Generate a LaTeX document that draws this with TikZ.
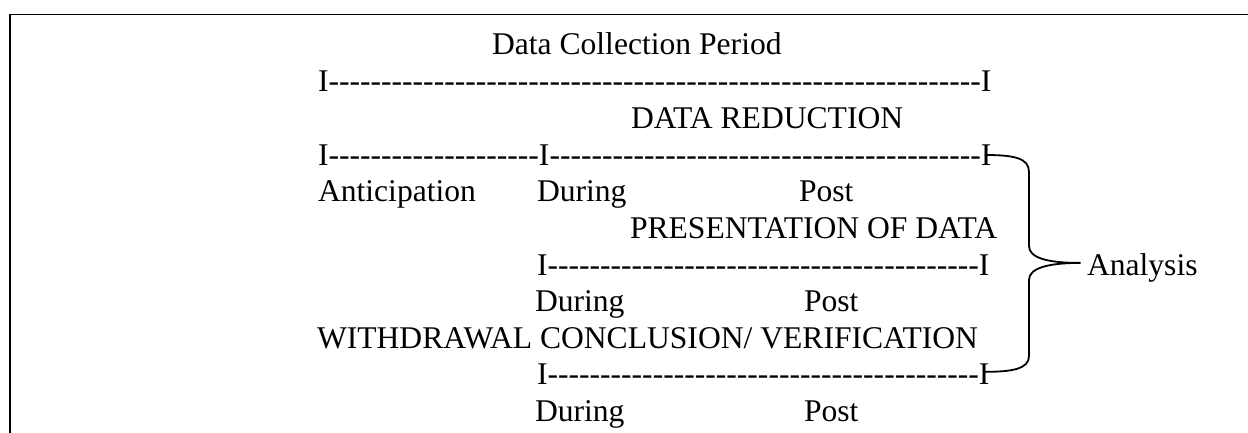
\documentclass[tikz,border=0pt]{standalone}
\usepackage{fontspec}
\setmainfont{Liberation Serif}[Ligatures=TeXOff]
\usetikzlibrary{calc}
\tikzset{
  txt/.style={anchor=base west, inner sep=0pt, outer sep=0pt, font=\fontsize{15.8pt}{18pt}\selectfont},
  frame/.style={line width=0.9pt, black},
  brace/.style={line width=0.9pt, black, line join=round}
}
\begin{document}
\begin{tikzpicture}[x=0.5pt, y=-0.5pt]
\useasboundingbox (0,0) rectangle (1248,433);
% frame
\coordinate (ftl) at (10,14.5);
\coordinate (ftr) at (1248,14.5);
\coordinate (fbl) at (10,433);
\draw[frame] (fbl) -- (ftl) -- (ftr);
% rows
\node[txt] (r1) at (492,54.5) {Data Collection Period};
\node[txt] (r2) at (318,91.5) {I--------------------------------------------------------------I};
\node[txt] (r3) at (631,128.3) {DATA REDUCTION};
\node[txt] (r4) at (318,165) {I--------------------I-----------------------------------------I};
\node[txt] (r5a) at (318,201.8) {Anticipation};
\node[txt] (r5b) at (537,201.8) {During};
\node[txt] (r5c) at (799,201.8) {Post};
\node[txt] (r6) at (630,238.4) {PRESENTATION OF DATA};
\node[txt] (r7) at (537,275) {I-----------------------------------------I};
\node[txt] (r8a) at (535,311.6) {During};
\node[txt] (r8b) at (804,311.6) {Post};
\node[txt] (r9) at (317,348.2) {WITHDRAWAL CONCLUSION/ VERIFICATION};
\node[txt] (r10) at (537,384.8) {I-----------------------------------------I};
\node[txt] (r11a) at (535,421.4) {During};
\node[txt] (r11b) at (804,421.4) {Post};
\node[txt] (an) at (1087,275.5) {Analysis};
% brace
\coordinate (b1) at ([xshift=-3.25pt,yshift=5pt]r4.base east);
\coordinate (b2) at ([xshift=-3.25pt,yshift=6.5pt]r10.base east);
\coordinate (tip) at ([xshift=-3.5pt,yshift=6.3pt]an.base west);
\draw[brace] (b1) .. controls (1014,155) and (1029,158) .. (1029,172)
  -- (1029,246) .. controls (1029,258) and (1048,263) .. (tip)
  .. controls (1048,263) and (1029,268) .. (1029,280)
  -- (1029,356) .. controls (1029,369) and (1012,372) .. (b2);
\end{tikzpicture}
\end{document}
